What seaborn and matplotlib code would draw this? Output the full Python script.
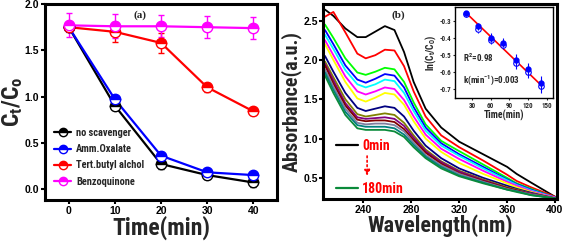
import numpy as np
import pandas as pd
import matplotlib
matplotlib.use('Agg')
import matplotlib.pyplot as plt
import seaborn as sns
from matplotlib import font_manager
from matplotlib.lines import Line2D

sns.set_theme(style='ticks')
avail = {f.name for f in font_manager.fontManager.ttflist}
narrow = next((f for f in ['Liberation Sans Narrow', 'DejaVu Sans Condensed', 'Roboto Condensed']
               if f in avail), 'DejaVu Sans')
plt.rcParams['font.family'] = [narrow, 'DejaVu Sans']
plt.rcParams['mathtext.default'] = 'regular'

# ---- panel (a): scavenger test ----
time = [0, 10, 20, 30, 40]
no_scav = [1.75, 0.90, 0.27, 0.15, 0.07]
no_scav_err = [0.04, 0.04, 0.05, 0.04, 0.05]
amm_ox = [1.75, 0.97, 0.36, 0.18, 0.15]
amm_ox_err = [0.03, 0.03, 0.04, 0.03, 0.03]
tba = [1.75, 1.70, 1.58, 1.10, 0.84]
tba_err = [0.05, 0.11, 0.11, 0.05, 0.04]
bq = [1.77, 1.76, 1.76, 1.75, 1.74]
bq_err = [0.13, 0.13, 0.12, 0.12, 0.12]
series_names = ['no scavenger', 'Amm.Oxalate', 'Tert.butyl alchol', 'Benzoquinone']
series_colors = ['black', '#0000ff', '#ff0000', '#ff00ff']

# ---- panel (b): UV-vis spectra ----
wl = [208, 215, 225, 235, 242, 250, 258, 266, 274, 282, 292, 305, 320, 340, 360, 368, 380, 400]
spectra = {
    's00': [2.64, 2.56, 2.40, 2.29, 2.29, 2.36, 2.43, 2.38, 2.10, 1.72, 1.38, 1.14, 0.96, 0.80, 0.64, 0.55, 0.44, 0.26],
    's01': [2.55, 2.61, 2.35, 2.08, 2.02, 2.06, 2.13, 2.12, 1.92, 1.60, 1.28, 1.04, 0.89, 0.72, 0.54, 0.46, 0.38, 0.26],
    's02': [2.45, 2.28, 2.02, 1.84, 1.81, 1.85, 1.90, 1.88, 1.72, 1.46, 1.18, 0.97, 0.84, 0.67, 0.50, 0.43, 0.36, 0.25],
    's03': [2.38, 2.20, 1.93, 1.75, 1.71, 1.76, 1.82, 1.80, 1.65, 1.40, 1.14, 0.94, 0.80, 0.64, 0.48, 0.42, 0.35, 0.25],
    's04': [2.32, 2.14, 1.87, 1.69, 1.65, 1.69, 1.75, 1.73, 1.58, 1.35, 1.10, 0.91, 0.78, 0.62, 0.47, 0.41, 0.34, 0.25],
    's05': [2.25, 2.06, 1.79, 1.60, 1.56, 1.60, 1.65, 1.63, 1.49, 1.28, 1.05, 0.87, 0.74, 0.59, 0.45, 0.40, 0.33, 0.25],
    's06': [2.20, 2.00, 1.72, 1.51, 1.47, 1.52, 1.58, 1.56, 1.43, 1.22, 1.00, 0.83, 0.69, 0.55, 0.43, 0.38, 0.32, 0.24],
    's07': [2.05, 1.85, 1.58, 1.39, 1.35, 1.38, 1.41, 1.39, 1.28, 1.10, 0.91, 0.75, 0.62, 0.50, 0.40, 0.36, 0.31, 0.24],
    's08': [1.98, 1.78, 1.50, 1.31, 1.28, 1.30, 1.32, 1.30, 1.20, 1.04, 0.86, 0.71, 0.59, 0.48, 0.38, 0.35, 0.30, 0.24],
    's09': [1.95, 1.74, 1.45, 1.27, 1.25, 1.26, 1.27, 1.25, 1.16, 1.01, 0.84, 0.70, 0.58, 0.47, 0.37, 0.34, 0.30, 0.24],
    's10': [1.93, 1.70, 1.42, 1.24, 1.22, 1.23, 1.23, 1.21, 1.12, 0.98, 0.82, 0.68, 0.56, 0.46, 0.37, 0.34, 0.29, 0.24],
    's11': [1.88, 1.66, 1.38, 1.20, 1.18, 1.19, 1.19, 1.17, 1.09, 0.95, 0.79, 0.66, 0.55, 0.45, 0.36, 0.33, 0.29, 0.24],
    's12': [1.84, 1.62, 1.34, 1.17, 1.15, 1.15, 1.15, 1.13, 1.05, 0.92, 0.77, 0.64, 0.53, 0.44, 0.35, 0.33, 0.28, 0.24],
    's13': [1.80, 1.58, 1.30, 1.13, 1.11, 1.11, 1.11, 1.09, 1.02, 0.89, 0.75, 0.62, 0.52, 0.43, 0.35, 0.32, 0.28, 0.24],
}
spec_colors = ['black', '#ff0000', '#00ff00', '#0000ff', '#00ffff', '#ff00ff', '#ffff00',
               '#000080', '#808000', '#800080', '#800000', '#7f7fa0', '#008080', '#0a8a3a']

# ---- inset: kinetics ----
t_in = [20, 40, 60, 80, 100, 120, 140]
ln_fill = [-0.257, -0.331, -0.399, -0.428, -0.53, -0.578, -0.66]
ln_open = [-0.262, -0.35, -0.41, -0.44, -0.547, -0.60, -0.68]
ln_err = [0.015, 0.02, 0.025, 0.025, 0.035, 0.035, 0.04]
fit_t = [20, 140]
fit_y = [-0.252, -0.672]

fig = plt.figure(figsize=(5.67, 2.41), dpi=100)
ax1 = fig.add_axes([0.079, 0.170, 0.410, 0.813])
ax2 = fig.add_axes([0.570, 0.174, 0.412, 0.809])

tickfont = dict(family='Liberation Sans', weight='bold', size=7.5)

# panel (a)
vals = [no_scav, amm_ox, tba, bq]
errs = [no_scav_err, amm_ox_err, tba_err, bq_err]
df_a = pd.DataFrame({'time': time * 4,
                     'ratio': sum(vals, []),
                     'series': sum([[n] * len(time) for n in series_names], [])})
sns.lineplot(data=df_a, x='time', y='ratio', hue='series', palette=series_colors,
             hue_order=series_names, lw=1.6, legend=False, ax=ax1)
for v, e, c in zip(vals, errs, series_colors):
    ax1.errorbar(time, v, yerr=e, fmt='o', ms=7.5, color=c, mec=c, mfc=c,
                 fillstyle='top', markerfacecoloralt='white', ecolor=c,
                 elinewidth=1.0, capsize=2.5, capthick=1.0, mew=1.0, zorder=3)
handles = [Line2D([], [], color=c, lw=1.6, marker='o', ms=6, fillstyle='top',
                  markerfacecoloralt='white', mec=c) for c in series_colors]
leg = ax1.legend(handles, series_names, loc='lower left', bbox_to_anchor=(0.0, 0.02),
                 frameon=False, handlelength=1.6, handletextpad=0.5, labelspacing=0.6,
                 prop=dict(family=[narrow, 'DejaVu Sans'], weight='bold', size=7.5))
ax1.set_xlim(-5.2, 45.2)
ax1.set_ylim(-0.12, 2.0)
ax1.set_xticks([0, 10, 20, 30, 40])
ax1.set_yticks([0.0, 0.5, 1.0, 1.5, 2.0])
ax1.set_yticklabels(['0.0', '0.5', '1.0', '1.5', '2.0'])
ax1.set_xlabel('Time(min)', fontsize=17, fontweight='bold', labelpad=0)
ax1.set_ylabel('C$_t$/C$_o$', fontsize=17, fontweight='bold', labelpad=0)
ax1.text(0.41, 0.945, '(a)', transform=ax1.transAxes, ha='center', va='center',
         family='Liberation Serif', fontweight='bold', fontsize=8)

# panel (b)
df_b = pd.DataFrame({'wl': wl * len(spectra),
                     'abs': sum(spectra.values(), []),
                     'curve': sum([[k] * len(wl) for k in spectra], [])})
sns.lineplot(data=df_b, x='wl', y='abs', hue='curve', palette=spec_colors,
             lw=1.3, legend=False, ax=ax2, sort=False, estimator=None)
ax2.set_xlim(206.5, 401.5)
ax2.set_ylim(0.23, 2.71)
ax2.set_xticks([240, 280, 320, 360, 400])
ax2.set_yticks([0.5, 1.0, 1.5, 2.0, 2.5])
ax2.set_xlabel('Wavelength(nm)', fontsize=16, fontweight='bold', labelpad=0)
ax2.set_ylabel('Absorbance(a.u.)', fontsize=14.5, fontweight='bold', labelpad=1)
ax2.text(0.32, 0.945, '(b)', transform=ax2.transAxes, ha='center', va='center',
         family='Liberation Serif', fontweight='bold', fontsize=8)
lh = [Line2D([], [], color=spec_colors[0], lw=1.6), Line2D([], [], color=spec_colors[-1], lw=1.6)]
leg2 = ax2.legend(lh, ['0min', '180min'], loc='lower left', bbox_to_anchor=(0.0, -0.05),
                  frameon=False, handlelength=1.6, handletextpad=0.3, labelspacing=2.1,
                  prop=dict(family=[narrow, 'DejaVu Sans'], weight='bold', size=10))
for t in leg2.get_texts():
    t.set_color('#ff0000')
ax2.annotate('', xy=(0.188, 0.105), xytext=(0.188, 0.235), xycoords='axes fraction',
             arrowprops=dict(arrowstyle='-|>', color='#ff0000', ls=':', lw=1.2,
                             mutation_scale=8))

for ax in (ax1, ax2):
    for s in ax.spines.values():
        s.set_linewidth(2.2)
        s.set_color('black')
    ax.tick_params(direction='out', length=3, width=1.5, pad=1, colors='black')
    for lab in ax.get_xticklabels() + ax.get_yticklabels():
        lab.set_fontproperties(font_manager.FontProperties(**tickfont))

# inset
axi = fig.add_axes([0.8025, 0.593, 0.173, 0.378])
axi.plot(fit_t, fit_y, color='#ff0000', lw=1.2, zorder=2)
axi.errorbar(t_in, ln_open, yerr=ln_err, fmt='o', ms=4, mfc='white', mec='#0000ff',
             ecolor='#0000ff', elinewidth=0.8, capsize=0, mew=0.8, zorder=3)
axi.errorbar(t_in, ln_fill, yerr=ln_err, fmt='o', ms=3.5, color='#0000ff',
             ecolor='#0000ff', elinewidth=0.8, capsize=0, zorder=4)
axi.set_xlim(3, 160)
axi.set_ylim(-0.75, -0.22)
axi.set_xticks([30, 60, 90, 120, 150])
axi.set_yticks([-0.3, -0.4, -0.5, -0.6, -0.7])
axi.set_yticklabels(['-0.3', '-0.4', '-0.5', '-0.6', '-0.7'])
for s in axi.spines.values():
    s.set_linewidth(1.0)
    s.set_color('black')
axi.tick_params(direction='out', length=1.5, width=0.8, pad=1, labelsize=5)
for lab in axi.get_xticklabels() + axi.get_yticklabels():
    lab.set_fontweight('bold')
axi.set_xlabel('Time(min)', fontsize=7, fontweight='bold', labelpad=0)
axi.set_ylabel('ln(C$_t$/C$_O$)', fontsize=7, fontweight='bold', labelpad=1)
axi.text(16, -0.54, 'R$^2$=0.98', fontsize=6.5, fontweight='bold')
axi.text(16, -0.66, 'k(min$^{-1}$)=0.003', fontsize=6.5, fontweight='bold')

fig.savefig('out.png', dpi=100)
